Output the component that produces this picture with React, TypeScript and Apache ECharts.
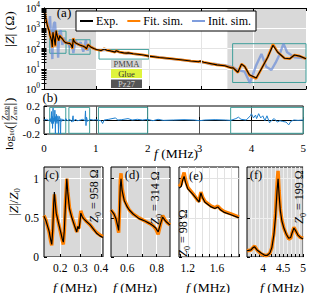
import React, { useEffect, useRef } from 'react';
import * as echarts from 'echarts';

const FONT = '"Liberation Serif", "DejaVu Serif", serif';
const GRAY = '#d9d9d9';
const ORANGE = '#ff8000';
const BLUE = 'rgba(105,140,215,0.7)';
const TEAL = '#3f9f9b';
const RESID = '#1f80d0';

// ---------- panel (a): |Z| (Ohm) vs f (MHz) ----------
const aExp: [number, number][] = [
  [0.005, 9500], [0.02, 5200], [0.04, 2600], [0.06, 1500], [0.08, 1000], [0.1, 720],
  [0.115, 430], [0.13, 330], [0.145, 240], [0.158, 120], [0.165, 300], [0.171, 640],
  [0.178, 460], [0.19, 340], [0.2, 250], [0.215, 140], [0.222, 340], [0.232, 760],
  [0.24, 570], [0.256, 390], [0.27, 300], [0.281, 245], [0.287, 290], [0.292, 275],
  [0.301, 430], [0.314, 370], [0.347, 310], [0.38, 230], [0.41, 195], [0.45, 185],
  [0.49, 180], [0.52, 150], [0.542, 105], [0.558, 300], [0.58, 215], [0.614, 180],
  [0.68, 150], [0.75, 130], [0.793, 112], [0.81, 96], [0.84, 155], [0.89, 120],
  [0.95, 100], [1.0, 90], [1.09, 80], [1.15, 95], [1.2, 82], [1.27, 76], [1.34, 68],
  [1.355, 66], [1.38, 78], [1.435, 67], [1.52, 61], [1.57, 59], [1.61, 61], [1.7, 55],
  [1.79, 52], [1.9, 48], [2.0, 42], [2.2, 36], [2.4, 32], [2.65, 27], [2.8, 24],
  [2.95, 22], [2.98, 24], [3.05, 21], [3.3, 15.5], [3.45, 14], [3.58, 11], [3.61, 11],
  [3.7, 6.7], [3.77, 17], [3.83, 13], [3.92, 5], [4.05, 3.5], [4.15, 10], [4.27, 37],
  [4.37, 145], [4.46, 65], [4.59, 33], [4.69, 31], [4.78, 48], [4.88, 42], [5.0, 31],
];
const aFit: [number, number][] = [
  [0.005, 9500], [0.02, 5200], [0.04, 2600], [0.06, 1500], [0.08, 1000], [0.1, 720],
  [0.115, 440], [0.13, 330], [0.145, 230], [0.158, 110], [0.165, 290], [0.171, 620],
  [0.178, 460], [0.19, 340], [0.2, 245], [0.215, 125], [0.222, 330], [0.232, 760],
  [0.24, 580], [0.256, 395], [0.27, 300], [0.281, 240], [0.287, 280], [0.292, 280],
  [0.301, 450], [0.314, 380], [0.347, 310], [0.38, 232], [0.41, 198], [0.45, 185],
  [0.49, 180], [0.52, 148], [0.542, 97], [0.558, 320], [0.58, 220], [0.614, 180],
  [0.68, 150], [0.75, 130], [0.793, 110], [0.81, 90], [0.84, 160], [0.89, 121],
  [0.95, 100], [1.0, 90], [1.09, 81], [1.15, 98], [1.2, 83], [1.27, 76], [1.34, 68],
  [1.355, 66], [1.38, 79], [1.435, 67], [1.52, 61], [1.57, 59], [1.61, 61], [1.7, 55],
  [1.79, 52], [1.9, 48], [2.0, 42], [2.2, 36], [2.4, 32], [2.65, 27], [2.8, 24],
  [2.95, 22], [2.98, 23.5], [3.05, 21], [3.3, 15.5], [3.45, 14], [3.58, 11], [3.61, 11],
  [3.7, 6.5], [3.77, 17], [3.83, 13], [3.92, 4.8], [4.05, 3.3], [4.15, 10], [4.27, 38],
  [4.37, 160], [4.46, 66], [4.59, 33], [4.69, 31], [4.78, 48], [4.88, 42], [5.0, 31],
];
const aInit: [number, number][] = [
  [0.005, 9500], [0.04, 2600], [0.08, 1100], [0.1, 1500], [0.115, 4000], [0.13, 600],
  [0.16, 30], [0.175, 900], [0.19, 1800], [0.21, 2000], [0.23, 300], [0.25, 600],
  [0.27, 35], [0.29, 500], [0.32, 800], [0.35, 150], [0.38, 350], [0.41, 180],
  [0.45, 220], [0.5, 110], [0.53, 270], [0.56, 60], [0.6, 250], [0.65, 150],
  [0.7, 200], [0.75, 70], [0.8, 260], [0.83, 80], [0.88, 130], [0.95, 100], [1.0, 88],
  [1.1, 82], [1.2, 85], [1.3, 72], [1.4, 70], [1.5, 62], [1.6, 58], [1.7, 56], [1.8, 50],
  [1.9, 47], [2.0, 42], [2.2, 37], [2.4, 31], [2.6, 28], [2.8, 24], [3.0, 21], [3.1, 19],
  [3.2, 16], [3.25, 18], [3.35, 16], [3.45, 15], [3.6, 12], [3.7, 8.7], [3.83, 7.2],
  [3.93, 2.0], [4.05, 15], [4.15, 54], [4.24, 12.6], [4.34, 8.7], [4.42, 20], [4.5, 54],
  [4.57, 174], [4.64, 65], [4.78, 37], [5.0, 33],
];

// ---------- panel (b): log10(|Zexp/Zsim|) ----------
const bResid: [number, number][] = [
  [0, 0], [0.05, 0.01], [0.1, -0.01], [0.12, 0.02], [0.135, -0.03], [0.145, 0.12],
  [0.15, -0.05], [0.16, 0.05], [0.165, -0.12], [0.175, 0.17], [0.18, -0.05],
  [0.19, 0.03], [0.2, -0.02], [0.21, 0.14], [0.22, -0.2], [0.225, 0.05],
  [0.235, -0.03], [0.24, 0.08], [0.25, -0.05], [0.26, 0.02], [0.27, 0.06],
  [0.28, -0.2], [0.285, 0.03], [0.3, 0.05], [0.31, -0.03], [0.32, -0.2],
  [0.325, 0.02], [0.34, -0.02], [0.36, 0.01], [0.4, -0.01], [0.42, 0.02],
  [0.45, -0.01], [0.5, 0.01], [0.54, -0.03], [0.56, 0.06], [0.57, -0.02],
  [0.6, 0.01], [0.65, -0.01], [0.7, 0.0], [0.75, 0.01], [0.79, -0.01], [0.8, 0.13],
  [0.81, -0.08], [0.82, 0.04], [0.84, -0.02], [0.88, 0.01], [0.95, 0], [1.0, 0.005],
  [1.1, -0.01], [1.13, -0.05], [1.16, 0.0], [1.25, 0.01], [1.38, 0.03], [1.42, 0.0],
  [1.5, 0.005], [1.62, 0.02], [1.7, 0.0], [1.8, 0.01], [1.9, 0.0], [2.0, 0.01],
  [2.1, -0.01], [2.2, 0.01], [2.3, -0.005], [2.5, 0.0], [2.7, 0.005], [2.9, 0.0],
  [3.0, -0.01], [3.1, 0], [3.3, 0.005], [3.5, 0], [3.6, -0.005], [3.7, 0.02],
  [3.75, 0.04], [3.8, 0.01], [3.9, 0.0], [3.98, 0.06], [4.0, 0.09], [4.04, 0.03],
  [4.08, 0.07], [4.1, 0.02], [4.14, 0.09], [4.18, 0.03], [4.22, 0.06], [4.26, -0.01],
  [4.3, 0.06], [4.35, -0.04], [4.4, 0.0], [4.44, 0.02], [4.5, -0.03], [4.55, -0.01],
  [4.6, -0.02], [4.67, -0.03], [4.72, -0.07], [4.76, -0.02], [4.82, 0.0],
  [4.9, -0.005], [5.0, 0],
];

// ---------- insets (c)-(f): |Z|/Z0 ----------
const cExp: [number, number][] = [
  [0.12, 0.52], [0.13, 0.46], [0.145, 0.33], [0.153, 0.22], [0.158, 0.16], [0.163, 0.35],
  [0.168, 0.7], [0.171, 0.83], [0.175, 0.7], [0.18, 0.56], [0.19, 0.45], [0.2, 0.34],
  [0.21, 0.23], [0.215, 0.19], [0.22, 0.35], [0.226, 0.7], [0.232, 1.0], [0.237, 0.82],
  [0.245, 0.62], [0.256, 0.51], [0.27, 0.4], [0.281, 0.32], [0.286, 0.39], [0.292, 0.36],
  [0.297, 0.45], [0.301, 0.56], [0.307, 0.52], [0.314, 0.49], [0.33, 0.45], [0.347, 0.41],
  [0.365, 0.35], [0.38, 0.3], [0.395, 0.27], [0.41, 0.25],
];
const cFit: [number, number][] = [
  [0.12, 0.53], [0.13, 0.47], [0.145, 0.32], [0.153, 0.2], [0.158, 0.15], [0.163, 0.33],
  [0.168, 0.68], [0.171, 0.8], [0.175, 0.7], [0.18, 0.57], [0.19, 0.45], [0.2, 0.33],
  [0.21, 0.21], [0.215, 0.16], [0.22, 0.33], [0.226, 0.72], [0.232, 1.0], [0.237, 0.84],
  [0.245, 0.63], [0.256, 0.52], [0.27, 0.41], [0.281, 0.32], [0.286, 0.37], [0.292, 0.37],
  [0.297, 0.5], [0.301, 0.59], [0.307, 0.54], [0.314, 0.5], [0.33, 0.45], [0.347, 0.41],
  [0.365, 0.35], [0.38, 0.31], [0.395, 0.28], [0.41, 0.26],
];
const dExp: [number, number][] = [
  [0.49, 0.6], [0.51, 0.55], [0.524, 0.49], [0.535, 0.4], [0.542, 0.34], [0.548, 0.6],
  [0.553, 0.9], [0.558, 1.0], [0.565, 0.85], [0.58, 0.72], [0.6, 0.64], [0.614, 0.6],
  [0.64, 0.55], [0.68, 0.49], [0.72, 0.46], [0.75, 0.43], [0.775, 0.4], [0.793, 0.37],
  [0.81, 0.32], [0.825, 0.42], [0.84, 0.51], [0.855, 0.47], [0.87, 0.44], [0.89, 0.41],
];
const dFit: [number, number][] = [
  [0.49, 0.6], [0.51, 0.55], [0.524, 0.48], [0.535, 0.38], [0.542, 0.31], [0.548, 0.6],
  [0.553, 0.97], [0.558, 1.07], [0.565, 0.88], [0.58, 0.73], [0.6, 0.65], [0.614, 0.6],
  [0.64, 0.55], [0.68, 0.5], [0.72, 0.46], [0.75, 0.43], [0.775, 0.4], [0.793, 0.36],
  [0.81, 0.29], [0.825, 0.41], [0.84, 0.53], [0.855, 0.48], [0.87, 0.44], [0.89, 0.41],
];
const eExp: [number, number][] = [
  [1.08, 0.88], [1.11, 0.9], [1.13, 0.98], [1.15, 1.03], [1.17, 0.95], [1.2, 0.87],
  [1.27, 0.8], [1.34, 0.72], [1.355, 0.7], [1.37, 0.78], [1.38, 0.82], [1.4, 0.76],
  [1.435, 0.7], [1.52, 0.64], [1.57, 0.62], [1.61, 0.64], [1.65, 0.6], [1.7, 0.57],
  [1.79, 0.54], [1.9, 0.5],
];
const eFit: [number, number][] = [
  [1.08, 0.9], [1.11, 0.93], [1.13, 1.02], [1.15, 1.08], [1.17, 0.98], [1.2, 0.89],
  [1.27, 0.81], [1.34, 0.72], [1.355, 0.71], [1.37, 0.79], [1.38, 0.83], [1.4, 0.77],
  [1.435, 0.71], [1.52, 0.65], [1.57, 0.63], [1.61, 0.65], [1.65, 0.61], [1.7, 0.58],
  [1.79, 0.55], [1.9, 0.51],
];
const fExp: [number, number][] = [
  [3.6, 0.08], [3.7, 0.09], [3.75, 0.12], [3.79, 0.13], [3.85, 0.09], [3.95, 0.05],
  [4.05, 0.02], [4.1, 0.02], [4.17, 0.05], [4.22, 0.12], [4.27, 0.28], [4.31, 0.5],
  [4.35, 0.85], [4.375, 1.0], [4.4, 0.8], [4.43, 0.6], [4.47, 0.46], [4.52, 0.37],
  [4.58, 0.29], [4.64, 0.24], [4.69, 0.25], [4.72, 0.3], [4.77, 0.37], [4.82, 0.33],
  [4.87, 0.28], [4.93, 0.25], [5.0, 0.23],
];
const fFit: [number, number][] = [
  [3.6, 0.08], [3.7, 0.09], [3.75, 0.12], [3.79, 0.14], [3.85, 0.09], [3.95, 0.04],
  [4.05, 0.02], [4.1, 0.02], [4.17, 0.05], [4.22, 0.12], [4.27, 0.3], [4.31, 0.55],
  [4.35, 0.95], [4.375, 1.1], [4.4, 0.85], [4.43, 0.62], [4.47, 0.47], [4.52, 0.37],
  [4.58, 0.29], [4.64, 0.23], [4.69, 0.24], [4.72, 0.3], [4.77, 0.38], [4.82, 0.33],
  [4.87, 0.28], [4.93, 0.25], [5.0, 0.24],
];

// zoom boxes (f range MHz, |Z| range Ohm)
const boxF: [number, number][] = [[0.11, 0.42], [0.48, 0.88], [1.05, 2.0], [3.6, 5.0]];
const boxZ: [number, number][] = [[58, 720], [52, 270], [30, 90], [2.1, 173]];
const boxR: [number, number] = [-0.19, 0.18];
const unshaded: [number, number] = [1, 3.5];
const decades = [1, 10, 100, 1000, 10000];
const midGridF = [2, 3];

// tick values
const normTicks = [0, 0.5, 1];
const cTicks = [0.2, 0.3, 0.4];
const dTicks = [0.6, 0.7, 0.8];
const dLabels = [0.6, 0.8];
const eTicks = [1.1, 1.2, 1.3, 1.4, 1.5, 1.6, 1.7, 1.8, 1.9];
const eLabels = [1.2, 1.6];
const fTicks = [3.7, 3.8, 3.9, 4.0, 4.1, 4.2, 4.3, 4.4, 4.5, 4.6, 4.7, 4.8, 4.9, 5.0];
const fLabels = [4, 4.5, 5];
const Z0 = ['958', '314', '98', '199'];
const legendNames = ['Exp.', 'Fit. sim.', 'Init. sim.'];

// layout
const GA = { left: 44, top: 3, width: 262, height: 86 };
const GB = { left: 44, top: 106, width: 262, height: 28 };
const GC = { left: 44, top: 167, width: 59, height: 90 };
const GD = { left: 111, top: 167, width: 59, height: 90 };
const GE = { left: 179, top: 167, width: 60, height: 90 };
const GF = { left: 247, top: 167, width: 59, height: 90 };

const logMinor: number[] = [];
for (let d = 1; d < 10000; d *= 10) for (let k = 1; k < 10; k++) logMinor.push(k * d);
logMinor.push(10000);

const lbl = { fontFamily: FONT, color: '#000' };

function buildOption(): any {
  const grid = [
    { ...GA, show: true, backgroundColor: GRAY, borderWidth: 0 },
    { ...GB, show: true, backgroundColor: '#fff', borderColor: '#000', borderWidth: 1 },
    { ...GC, show: true, backgroundColor: GRAY, borderColor: '#000', borderWidth: 1 },
    { ...GD, show: true, backgroundColor: GRAY, borderColor: '#000', borderWidth: 1 },
    { ...GE, show: true, backgroundColor: '#fff', borderColor: '#000', borderWidth: 1 },
    { ...GF, show: true, backgroundColor: GRAY, borderColor: '#000', borderWidth: 1 },
  ];
  const frameX = (gi: number, pos: string) => ({
    type: 'value', gridIndex: gi, position: pos, min: 0, max: 5, interval: 1, z: 10,
    axisLine: { show: true, lineStyle: { color: '#000', width: 1 } },
    axisTick: { show: true, inside: true, length: 3, lineStyle: { color: '#000' } },
    axisLabel: { show: false }, splitLine: { show: false },
  });
  const frameY = (pos: string) => ({
    type: 'log', logBase: 10, gridIndex: 0, position: pos, min: 1, max: 10000, z: 10,
    axisLine: { show: true, lineStyle: { color: '#000', width: 1 } },
    axisTick: { show: true, inside: true, length: 2.5, customValues: logMinor, lineStyle: { color: '#000' } },
    axisLabel: { show: false }, splitLine: { show: false },
  });
  const insetX = (gi: number, min: number, max: number, ticks: number[], labels: number[], split: string) => ({
    type: 'value', gridIndex: gi, min, max,
    axisLine: { show: false },
    axisTick: { show: true, inside: true, length: 3, customValues: ticks, lineStyle: { color: '#000' } },
    axisLabel: { show: true, customValues: labels, margin: 5, fontSize: 11.5, ...lbl },
    splitLine: { show: true, lineStyle: { color: split, width: 1 } },
  });
  const insetY = (gi: number, showLabel: boolean, split: string) => ({
    type: 'value', gridIndex: gi, min: 0, max: 1.15,
    axisLine: { show: false },
    axisTick: { show: true, inside: true, length: 3, customValues: normTicks, lineStyle: { color: '#000' } },
    axisLabel: { show: showLabel, customValues: normTicks, margin: 5, fontSize: 11.5, ...lbl },
    splitLine: { show: true, lineStyle: { color: split, width: 1 } },
  });

  const xAxis = [
    { type: 'value', gridIndex: 0, min: 0, max: 5, interval: 1, z: 0,
      axisLine: { show: false }, axisTick: { show: false }, axisLabel: { show: false },
      splitLine: { show: true, lineStyle: { color: '#fff', width: 1 } } },
    frameX(0, 'bottom'),
    frameX(0, 'top'),
    { type: 'value', gridIndex: 1, min: 0, max: 5, interval: 1,
      axisLine: { show: true, lineStyle: { color: '#000' } },
      axisTick: { show: true, inside: true, length: 3, lineStyle: { color: '#000' } },
      axisLabel: { show: true, margin: 8, fontSize: 11, ...lbl },
      splitLine: { show: true, lineStyle: { color: '#555', width: 1 } } },
    insetX(2, 0.12, 0.41, cTicks, cTicks, '#fff'),
    insetX(3, 0.49, 0.89, dTicks, dLabels, '#fff'),
    insetX(4, 1.08, 1.9, eTicks, eLabels, '#e2e2e2'),
    insetX(5, 3.6, 5.0, fTicks, fLabels, '#f0f0f0'),
  ];
  const yAxis = [
    { type: 'log', logBase: 10, gridIndex: 0, min: 1, max: 10000, z: 0,
      axisLine: { show: false }, axisTick: { show: false },
      axisLabel: {
        show: true, margin: 4, ...lbl,
        formatter: (v: number) => '{b|10}{s|' + Math.round(Math.log10(v)) + '}',
        rich: {
          b: { fontSize: 10.5, lineHeight: 12, verticalAlign: 'bottom', fontFamily: FONT },
          s: { fontSize: 7.5, lineHeight: 8, verticalAlign: 'bottom', padding: [0, 0, 6, 0], fontFamily: FONT },
        },
      },
      splitLine: { show: true, lineStyle: { color: '#fff', width: 1 } } },
    frameY('left'),
    frameY('right'),
    { type: 'value', gridIndex: 1, min: -0.2, max: 0.2, interval: 0.2,
      axisLine: { show: false },
      axisTick: { show: true, inside: true, length: 3, lineStyle: { color: '#000' } },
      axisLabel: { show: true, margin: 4, fontSize: 11, ...lbl },
      splitLine: { show: false } },
    insetY(2, true, '#fff'),
    insetY(3, false, '#fff'),
    insetY(4, false, '#e2e2e2'),
    insetY(5, false, '#f0f0f0'),
  ];

  const line = (name: string | undefined, data: [number, number][], xi: number, yi: number, color: string, width: number, z: number, extra: any = {}) => ({
    type: 'line', name, data, xAxisIndex: xi, yAxisIndex: yi, symbol: 'none', showSymbol: false,
    lineStyle: { color, width }, itemStyle: { color }, z, silent: true, ...extra,
  });

  const tealArea = (ys: (i: number) => [number, number]) => ({
    silent: true,
    itemStyle: { color: 'rgba(0,0,0,0)', borderColor: TEAL, borderWidth: 1 },
    label: { show: false },
    data: boxF.map((bf, i) => [{ xAxis: bf[0], yAxis: ys(i)[0] }, { xAxis: bf[1], yAxis: ys(i)[1] }]),
  });

  const midLines: any[] = [];
  midGridF.forEach((f) => midLines.push({ xAxis: f }));
  decades.slice(1, 4).forEach((d) => midLines.push([{ coord: [unshaded[0], d] }, { coord: [unshaded[1], d] }]));

  const series = [
    line(legendNames[2], aInit, 0, 0, BLUE, 2.4, 2, {
      markArea: { silent: true, itemStyle: { color: '#fff' }, label: { show: false },
        data: [[{ xAxis: unshaded[0] }, { xAxis: unshaded[1] }]] },
      markLine: { silent: true, symbol: ['none', 'none'], label: { show: false },
        lineStyle: { color: '#e4e4e4', width: 1, type: 'solid' }, data: midLines },
    }),
    line(legendNames[1], aFit, 0, 0, ORANGE, 2.6, 3),
    line(legendNames[0], aExp, 0, 0, '#000', 1.1, 4, { markArea: tealArea((i) => boxZ[i]) }),
    line(undefined, bResid, 3, 3, RESID, 1, 3, { markArea: tealArea(() => boxR) }),
    line(undefined, cFit, 4, 4, ORANGE, 3.5, 3),
    line(undefined, cExp, 4, 4, '#000', 1.2, 4),
    line(undefined, dFit, 5, 5, ORANGE, 3.5, 3),
    line(undefined, dExp, 5, 5, '#000', 1.2, 4),
    line(undefined, eFit, 6, 6, ORANGE, 3.5, 3),
    line(undefined, eExp, 6, 6, '#000', 1.2, 4),
    line(undefined, fFit, 7, 7, ORANGE, 3.5, 3),
    line(undefined, fExp, 7, 7, '#000', 1.2, 4),
  ];

  const T = (x: number, y: number, text: string, size: number, extra: any = {}, rot = 0) => ({
    type: 'text', x, y, z: 100, rotation: rot, silent: true,
    style: { text, fontFamily: FONT, fontSize: size, fill: '#000', align: 'center', verticalAlign: 'middle', ...extra },
  });
  const subRich = (size: number) => ({
    i: { fontStyle: 'italic', fontSize: size, lineHeight: size + 2, padding: [0, 0, 2, 0], verticalAlign: 'bottom', fontFamily: FONT },
    b: { fontSize: size, lineHeight: size + 2, padding: [0, 0, 2, 0], verticalAlign: 'bottom', fontFamily: FONT },
    sub: { fontSize: size * 0.68, lineHeight: size * 0.68 + 2, verticalAlign: 'bottom', fontFamily: FONT },
  });
  const z0Text = (v: string) => '{i|Z}{sub|0}{b| = ' + v + ' Ω}';
  const R = Math.PI / 2;
  const fTitle = '{i|f}{b| (MHz)}';
  const fRich = {
    i: { fontStyle: 'italic', fontSize: 13.5, fontFamily: FONT },
    b: { fontSize: 13.5, fontFamily: FONT },
  };

  const graphic: any[] = [
    // panel letters
    T(64, 12, '(a)', 13),
    T(50, 97, '(b)', 13),
    T(52, 175, '(c)', 12.5),
    T(132, 175, '(d)', 12.5),
    T(196, 176, '(e)', 12.5),
    T(256, 175, '(f)', 12.5),
    // axis titles
    T(9, 29, '{b||}{i|Z}{b|| (Ω)}', 13, { rich: fRich }, R),
    T(14, 202, '{b||}{i|Z}{b||/}{i|Z}{sub|0}', 13, { rich: subRich(13) }, R),
    T(176, 153, fTitle, 13.5, { rich: fRich }),
    T(75, 287, fTitle, 13.5, { rich: fRich }),
    T(135, 287, fTitle, 13.5, { rich: fRich }),
    T(208, 287, fTitle, 13.5, { rich: fRich }),
    T(282, 287, fTitle, 13.5, { rich: fRich }),
    // Z0 labels
    T(95, 196, z0Text(Z0[0]), 12, { rich: subRich(12) }, R),
    T(156, 198, z0Text(Z0[1]), 12, { rich: subRich(12) }, R),
    T(184, 233, z0Text(Z0[2]), 12, { rich: subRich(12) }, R),
    T(300, 197, z0Text(Z0[3]), 12, { rich: subRich(12) }, R),
    // (b) y-axis title: log10(|Zexp/Zsim|)
    {
      type: 'group', x: 9, y: 121, rotation: R, z: 100, silent: true,
      children: [
        { type: 'text', x: -29, y: 0, style: { text: 'log', fontFamily: FONT, fontSize: 11, fill: '#000', align: 'left', verticalAlign: 'middle' } },
        { type: 'text', x: -15, y: 3, style: { text: '10', fontFamily: FONT, fontSize: 7, fill: '#000', align: 'left', verticalAlign: 'middle' } },
        { type: 'text', x: -8, y: 0, style: { text: '(', fontFamily: FONT, fontSize: 13, fill: '#000', align: 'left', verticalAlign: 'middle' } },
        { type: 'text', x: -3.5, y: 0, style: { text: '|', fontFamily: FONT, fontSize: 15, fill: '#000', align: 'left', verticalAlign: 'middle' } },
        { type: 'text', x: 0.5, y: -4.5, style: { text: 'Z', fontFamily: FONT, fontStyle: 'italic', fontSize: 8.5, fill: '#000', align: 'left', verticalAlign: 'middle' } },
        { type: 'text', x: 6, y: -3, style: { text: 'exp', fontFamily: FONT, fontSize: 6, fill: '#000', align: 'left', verticalAlign: 'middle' } },
        { type: 'line', shape: { x1: 0.5, y1: 0, x2: 15, y2: 0 }, style: { stroke: '#000', lineWidth: 0.7 } },
        { type: 'text', x: 0.5, y: 4.5, style: { text: 'Z', fontFamily: FONT, fontStyle: 'italic', fontSize: 8.5, fill: '#000', align: 'left', verticalAlign: 'middle' } },
        { type: 'text', x: 6, y: 6, style: { text: 'sim', fontFamily: FONT, fontSize: 6, fill: '#000', align: 'left', verticalAlign: 'middle' } },
        { type: 'text', x: 15.5, y: 0, style: { text: '|', fontFamily: FONT, fontSize: 15, fill: '#000', align: 'left', verticalAlign: 'middle' } },
        { type: 'text', x: 19, y: 0, style: { text: ')', fontFamily: FONT, fontSize: 13, fill: '#000', align: 'left', verticalAlign: 'middle' } },
      ],
    },
    // layer stack inset
    { type: 'rect', z: 100, silent: true, shape: { x: 111, y: 60, width: 31, height: 8 }, style: { fill: '#d4d4d4' } },
    { type: 'rect', z: 100, silent: true, shape: { x: 111, y: 69, width: 31, height: 9 }, style: { fill: '#dff43c' } },
    { type: 'rect', z: 100, silent: true, shape: { x: 111, y: 79.5, width: 31, height: 8.5 }, style: { fill: '#555555' } },
    T(126.5, 64.3, 'PMMA', 8.5, { fill: '#444' }),
    T(126.5, 73.5, 'Glue', 8.5, { fill: '#333' }),
    T(126.5, 83.8, 'Pz27', 8.5, { fill: '#d0d0d0' }),
  ];

  return {
    animation: false,
    textStyle: { fontFamily: FONT },
    grid, xAxis, yAxis, series, graphic,
    legend: {
      data: [
        { name: legendNames[0], icon: 'rect', itemStyle: { color: '#000' } },
        { name: legendNames[1], icon: 'rect', itemStyle: { color: ORANGE } },
        { name: legendNames[2], icon: 'rect', itemStyle: { color: 'rgba(105,140,215,0.85)' } },
      ],
      left: 76, top: 11, z: 20,
      padding: [4, 5, 4, 4], itemGap: 9, itemWidth: 13, itemHeight: 2,
      backgroundColor: '#fff', borderColor: '#000', borderWidth: 1, borderRadius: 0,
      selectedMode: false,
      textStyle: { fontFamily: FONT, fontSize: 12, color: '#000', padding: [0, 0, 0, -2] },
    },
  };
}

export default function App() {
  const ref = useRef<HTMLDivElement>(null);
  useEffect(() => {
    if (!ref.current) return;
    const chart = echarts.init(ref.current, null, { renderer: 'svg' });
    chart.setOption(buildOption());
    return () => chart.dispose();
  }, []);
  return (
    <div
      ref={ref}
      style={{ position: 'fixed', left: 0, top: 0, width: 309, height: 293, background: '#fff' }}
    />
  );
}
